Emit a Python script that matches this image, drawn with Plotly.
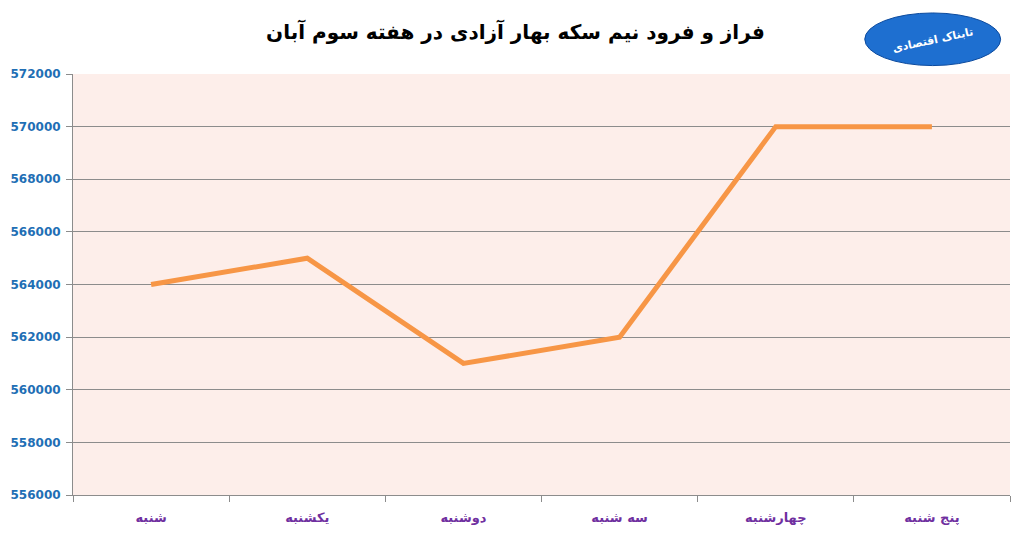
import plotly.graph_objects as go

categories = ["شنبه", "یکشنبه", "دوشنبه", "سه شنبه", "چهارشنبه", "پنج شنبه"]
prices = [564000, 565000, 561000, 562000, 570000, 570000]
y_ticks = [556000, 558000, 560000, 562000, 564000, 566000, 568000, 570000, 572000]
title_text = "فراز و فرود نیم سکه بهار آزادی در هفته سوم آبان"
logo_text = "تابناک اقتصادی"

fig = go.Figure()
fig.add_trace(go.Scatter(
    x=categories, y=prices, mode="lines",
    line=dict(color="#F79646", width=5),
    hoverinfo="x+y", showlegend=False,
))

fig.update_layout(
    width=1021, height=536,
    margin=dict(l=65, r=19, t=66, b=49),
    paper_bgcolor="white",
    plot_bgcolor="#FDEEEA",
    title=dict(text="<b>" + title_text + "</b>", x=0.497, xanchor="center",
               y=0.955, yanchor="middle",
               font=dict(family="DejaVu Sans", size=20, color="black")),
    xaxis=dict(
        type="category", tickson="boundaries", ticks="outside", ticklen=6,
        tickcolor="#8C8C8C", showgrid=False, showline=True, linecolor="#8C8C8C",
        linewidth=1, range=[-0.5, 5.5], ticklabelstandoff=10, automargin=False,
        tickfont=dict(family="DejaVu Sans", size=13, color="#7030A0", weight="bold"),
    ),
    yaxis=dict(
        range=[556000, 572000], tickvals=y_ticks, tickformat="d",
        ticks="outside", ticklen=6, tickcolor="#8C8C8C",
        showgrid=True, gridcolor="#8C8C8C", gridwidth=1,
        showline=True, linecolor="#8C8C8C", linewidth=1, zeroline=False,
        ticklabelstandoff=3, automargin=False,
        tickfont=dict(family="DejaVu Sans", size=12, color="#1F6FB5", weight="bold"),
    ),
)

# decorative logo approximation
fig.add_shape(type="circle", xref="paper", yref="paper",
              x0=0.845, x1=0.99, y0=1.02, y1=1.145,
              fillcolor="#1E6FD0", line=dict(color="#0B4A9E", width=1), layer="above",
              label=dict(text="<b>" + logo_text + "</b>", textangle=-12,
                         font=dict(family="DejaVu Sans", size=11, color="white")))

fig.write_html("out.html")
